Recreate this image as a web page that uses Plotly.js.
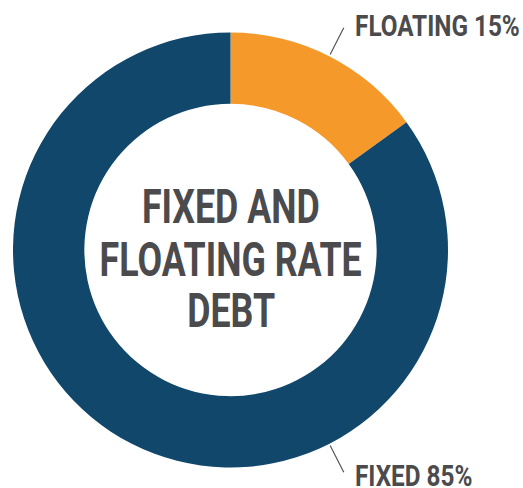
<!DOCTYPE html>
<html>
<head>
<meta charset="utf-8">
<script src="https://cdn.plot.ly/plotly-3.0.1.min.js"></script>
<style>html,body{margin:0;padding:0;background:#fff;}#chart{width:523px;height:488px;}</style>
</head>
<body>
<div id="chart"></div>
<script>
const categories = ["FLOATING", "FIXED"];
const shares = [15, 85];
const sliceColors = ["#F5992B", "#10476B"];
const centerTitle = ["FIXED AND", "FLOATING RATE", "DEBT"];

const W = 523, H = 488;
const cx = 230.5, cy = 250, R = 217.5;
const FONT = "Roboto, 'Liberation Sans', sans-serif";
const TEXT = "#4B4B4D";
const SQUEEZE_TITLE = 0.73;
const SQUEEZE_LABEL = 0.81;

function px(x){return x / W;}
function py(y){return 1 - y / H;}

const trace = {
  type: "pie",
  labels: categories,
  values: shares,
  marker: {colors: sliceColors, line: {width: 0}},
  hole: 0.672,
  sort: false,
  direction: "clockwise",
  rotation: 0,
  textinfo: "none",
  hoverinfo: "label+percent",
  domain: {x: [px(cx - R), px(cx + R)], y: [py(cy + R), py(cy - R)]},
  showlegend: false
};

// leader lines: radial ticks from the ring edge toward each label
const total = shares.reduce((a,b)=>a+b,0);
const floatMid = shares[0] / total * 180;
const leaderAngles = [floatMid, 180 - floatMid];
const shapes = leaderAngles.map(a => {
  const r = a * Math.PI / 180;
  const r1 = R + 2, r2 = R + 32;
  return {
    type: "line", xref: "paper", yref: "paper",
    x0: px(cx + r1 * Math.sin(r)), y0: py(cy - r1 * Math.cos(r)),
    x1: px(cx + r2 * Math.sin(r)), y1: py(cy - r2 * Math.cos(r)),
    line: {color: "#555555", width: 1.2}
  };
});

const titleY = [206, 259, 310];
const annotations = centerTitle.map((t, i) => ({
  text: "<b>" + t + "</b>",
  x: px(cx), y: py(titleY[i]), xref: "paper", yref: "paper",
  xanchor: "center", yanchor: "middle", showarrow: false,
  font: {family: FONT, size: 49, color: TEXT}
})).concat([
  {
    text: "<b>" + categories[0] + " " + shares[0] + "%</b>",
    x: px(353), y: py(25), xref: "paper", yref: "paper",
    xanchor: "left", yanchor: "middle", showarrow: false,
    font: {family: FONT, size: 30, color: TEXT}
  },
  {
    text: "<b>" + categories[1] + " " + shares[1] + "%</b>",
    x: px(353), y: py(475), xref: "paper", yref: "paper",
    xanchor: "left", yanchor: "middle", showarrow: false,
    font: {family: FONT, size: 30, color: TEXT}
  }
]);

Plotly.newPlot("chart", [trace], {
  width: W, height: H,
  margin: {l: 0, r: 0, t: 0, b: 0},
  paper_bgcolor: "#ffffff",
  shapes: shapes,
  annotations: annotations
}, {displayModeBar: false, staticPlot: true}).then(gd => {
  // condense the bold type horizontally (the original uses a condensed face)
  const texts = gd.querySelectorAll("g.annotation text.annotation-text");
  texts.forEach((el, i) => {
    const bb = el.getBBox();
    const centered = i < centerTitle.length;
    const s = centered ? SQUEEZE_TITLE : SQUEEZE_LABEL;
    const ox = centered ? bb.x + bb.width / 2 : bb.x;
    el.setAttribute("transform",
      "translate(" + ox + ",0) scale(" + s + ",1) translate(" + (-ox) + ",0)");
  });
});
</script>
</body>
</html>
